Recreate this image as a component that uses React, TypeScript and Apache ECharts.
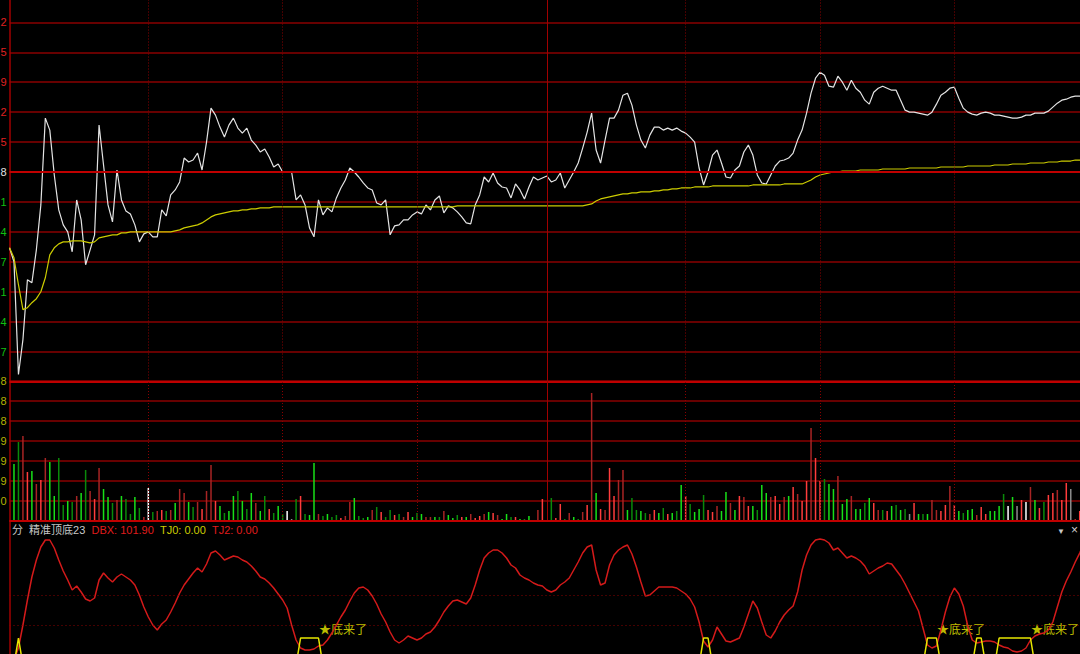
import React, { useEffect, useRef } from 'react';
import * as echarts from 'echarts';

// minute index 0..240 ; price in ticks relative to previous close (30 ticks = one grid step)
const PRICE = [
  -76, -90, -203, -168, -108, -111, -78, -33, 54, 42,
  -3, -38, -53, -60, -80, -28, -48, -93, -78, -63,
  47, 7, -33, -50, 2, -28, -39, -42, -53, -70,
  -62, -60, -65, -65, -38, -44, -23, -18, -10, 14,
  10, 12, 19, 2, 30, 64, 57, 45, 35, 47,
  54, 44, 39, 44, 32, 27, 20, 23, 15, 5,
  8, 0, 0, 0, -28, -23, -33, -56, -65, -28,
  -43, -36, -40, -26, -16, -8, 4, 0, -5, -11,
  -16, -18, -31, -33, -28, -63, -54, -53, -48, -48,
  -43, -40, -42, -33, -38, -28, -24, -41, -34, -36,
  -40, -45, -51, -52, -33, -23, -5, -10, -1, -11,
  -15, -16, -26, -12, -18, -27, -15, -5, -8, -6,
  -4, -10, -8, -1, -16, -8, 0, 9, 24, 40,
  59, 22, 9, 32, 54, 54, 62, 77, 79, 67,
  47, 32, 24, 37, 45, 45, 42, 44, 42, 44,
  41, 39, 35, 30, 4, -13, 0, 17, 22, 9,
  -5, -6, 2, 6, 20, 27, 17, -3, -11, -12,
  -3, 6, 11, 12, 14, 19, 32, 42, 59, 79,
  94, 100, 97, 86, 85, 96, 90, 82, 92, 84,
  80, 72, 68, 80, 84, 86, 84, 82, 82, 72,
  62, 60, 60, 59, 58, 57, 60, 68, 77, 80,
  84, 85, 74, 64, 60, 58, 57, 59, 60, 59,
  57, 57, 56, 55, 54, 54, 55, 57, 57, 59,
  59, 59, 61, 65, 69, 72, 73, 75, 76, 76, 76,
];

const AVG_PRICE = [
  -76, -86, -113, -138, -136, -131, -127, -120, -106, -83,
  -76, -72, -70, -70, -69, -69, -69, -70, -71, -70,
  -66, -65, -64, -63, -63, -61, -61, -60, -60, -60,
  -60, -60, -60, -60, -60, -60, -60, -59, -58, -56,
  -55, -54, -53, -51, -48, -45, -43, -42, -41, -40,
  -39, -39, -38, -38, -37, -37, -36, -36, -36, -35,
  -35, -35, -35, -35, -35, -35, -35, -35, -35, -35,
  -35, -35, -35, -35, -35, -35, -35, -35, -35, -35,
  -35, -35, -35, -35, -35, -35, -35, -35, -35, -35,
  -35, -35, -35, -35, -35, -35, -35, -35, -35, -35,
  -34, -34, -34, -34, -34, -34, -34, -34, -34, -34,
  -34, -34, -34, -34, -34, -34, -34, -34, -34, -34,
  -34, -34, -34, -34, -34, -34, -34, -34, -34, -33,
  -32, -29, -27, -26, -25, -24, -23, -22, -22, -21,
  -21, -20, -20, -20, -19, -19, -18, -18, -17, -17,
  -16, -16, -16, -15, -15, -15, -15, -14, -14, -14,
  -14, -14, -14, -14, -14, -14, -13, -13, -13, -13,
  -13, -13, -13, -12, -12, -12, -12, -12, -10, -8,
  -5, -3, -2, -1, 0, 0, 1, 1, 1, 1,
  2, 2, 2, 2, 2, 3, 3, 3, 3, 3,
  3, 4, 4, 4, 4, 4, 4, 4, 5, 5,
  5, 5, 5, 5, 6, 6, 6, 6, 6, 6,
  7, 7, 7, 7, 8, 8, 8, 8, 9, 9,
  9, 9, 10, 10, 10, 11, 11, 11, 12, 12, 12,
];

const VOLUME = [
  0, 57, 79, 85, 49, 50, 37, 41, 63, 59,
  25, 63, 16, 20, 19, 25, 28, 51, 30, 22,
  53, 32, 24, 18, 21, 25, 22, 7, 24, 13,
  4, 33, 9, 10, 11, 10, 11, 18, 32, 28,
  19, 14, 19, 12, 30, 56, 20, 15, 8, 10,
  25, 30, 20, 12, 28, 18, 10, 25, 12, 8,
  15, 7, 10, 2, 22, 25, 7, 6, 58, 7,
  5, 7, 4, 6, 3, 5, 19, 23, 5, 3,
  4, 11, 14, 9, 4, 11, 6, 7, 4, 9,
  4, 8, 7, 4, 4, 4, 4, 10, 6, 3,
  6, 4, 4, 7, 3, 5, 7, 9, 8, 6,
  2, 7, 4, 4, 2, 2, 5, 1, 11, 22,
  1, 23, 3, 17, 2, 8, 4, 2, 9, 16,
  128, 28, 12, 11, 53, 25, 41, 51, 11, 23,
  11, 10, 8, 7, 11, 8, 13, 7, 8, 10,
  36, 25, 17, 9, 12, 26, 11, 9, 15, 10,
  29, 18, 11, 25, 24, 15, 15, 11, 36, 28,
  24, 25, 17, 24, 25, 34, 27, 20, 40, 93,
  63, 40, 42, 37, 32, 45, 17, 22, 25, 12,
  12, 18, 23, 18, 11, 11, 10, 15, 16, 11,
  12, 7, 18, 7, 7, 7, 21, 11, 10, 16,
  35, 16, 10, 8, 11, 12, 6, 14, 7, 10,
  10, 15, 27, 15, 24, 15, 21, 19, 34, 21,
  13, 19, 26, 28, 31, 21, 38, 32, 2, 10, 10,
];

// r/R up (bright/dark), g/G down (bright/dark), w/W flat (bright/grey)
const VOLUME_COLOR =
  'ggGRrgRrRg' + 'gGGgGRgGRr' + 'RggGRgGGgG' + 'RwGRrGRgRR' + 'gGRrRRrgGg' +
  'gGgGgRgGrG' + 'gGwWGrGggR' + 'GgGGrRRgGG' + 'gRGrGGrGRr' + 'gGgRRgGRgg' +
  'GrgRrrRgrR' + 'ggGrgGgrRr' + 'gGrrGRgGRr' + 'RgrRrrRRgG' + 'GgGRrgGrgG' +
  'grGggGrrRg' + 'gRgrRrgGgg' + 'RrrRgrRrrR' + 'rrGggRggRg' + 'gGgrRGrgGg' +
  'GWrgGgRRrr' + 'RrgGggRrrg' + 'ggGwgWrwRg' + 'rGrrRrrWRr' + 'r';

const DBX = [
  -20, -15, -3, 20, 45, 68, 85, 98, 105, 105,
  97, 85, 74, 65, 55, 59, 53, 46, 44, 47,
  65, 72, 67, 63, 68, 71, 68, 65, 60, 50,
  38, 28, 20, 15, 21, 25, 33, 42, 52, 60,
  66, 72, 77, 73, 81, 92, 94, 90, 85, 87,
  89, 88, 85, 83, 79, 74, 68, 66, 62, 57,
  51, 45, 37, 20, 5, -3, -5, -5, -4, -1,
  0, 5, 12, 20, 28, 35, 44, 52, 57, 58,
  55, 49, 41, 31, 23, 13, 5, 2, 5, 9,
  7, 5, 7, 11, 13, 18, 25, 33, 39, 44,
  45, 43, 41, 47, 60, 75, 87, 92, 95, 95,
  92, 87, 80, 77, 70, 67, 65, 62, 60, 59,
  55, 53, 55, 60, 63, 67, 75, 83, 92, 98,
  100, 75, 60, 62, 80, 90, 95, 98, 100, 91,
  78, 63, 49, 50, 54, 58, 58, 58, 58, 57,
  54, 51, 46, 38, 23, 4, -2, 5, 18, 11,
  4, 3, 5, 7, 18, 31, 44, 37, 23, 10,
  7, 14, 23, 30, 35, 39, 53, 75, 90, 100,
  105, 106, 105, 102, 95, 97, 92, 87, 89, 87,
  84, 79, 71, 74, 77, 79, 82, 81, 75, 69,
  61, 52, 43, 34, 17, 0, -3, -1, 15, 33,
  48, 57, 51, 39, 19, 5, 2, 3, 4, 4,
  3, 0, -2, -3, -6, -7, -6, -3, 5, 9,
  11, 12, 15, 23, 38, 53, 64, 73, 83, 92, 101.9,
];

const TJ0_FLAGS =
  '0010000000' + '0000000000' + '0000000000' + '0000000000' + '0000000000' +
  '0000000000' + '0000011111' + '0000000000' + '0000000000' + '0000000000' +
  '0000000000' + '0000000000' + '0000000000' + '0000000000' + '0000000000' +
  '0000011000' + '0000000000' + '0000000000' + '0000000000' + '0000000000' +
  '0000011100' + '0000001100' + '0111111110' + '0000000000' + '0';

const TJ2_LAST = 0;
const SIGNAL_AT = [69, 207, 228];
const SIGNAL_LEVEL = 17;
const SIGNAL_TEXT = '★底来了';
const INDICATOR_NAME = '精准顶底23';

// visible last digit of price tick labels, from -6 to +5 grid steps
const PRICE_TICKS = ['7', '4', '1', '7', '4', '1', '8', '5', '2', '9', '5', '2'];
const PRICE_TICK_TONE = ['g', 'g', 'g', 'g', 'g', 'g', 'w', 'r', 'r', 'r', 'r', 'r'];
// visible last digit of volume tick labels, steps 1..7
const VOLUME_TICKS = ['0', '9', '9', '9', '8', '8', '8'];

const TIME_LINES = [31, 61, 91, 151, 181, 211];
const NOON_LINE = 120;

const COLORS: Record<string, string> = {
  r: '#ff3c3c', R: '#a82424', g: '#18e018', G: '#0a8a0a', w: '#ffffff', W: '#8c8c8c',
};

const FONT = "'Liberation Sans', 'Noto Sans CJK SC', sans-serif";

export default function App() {
  const ref = useRef<HTMLDivElement>(null);
  useEffect(() => {
    if (!ref.current) return;
    const chart = echarts.init(ref.current, null, { renderer: 'svg' });
    const gridBase = { left: 9.5, right: -4.2, outerBoundsMode: 'none', containLabel: false };
    const xa = (gridIndex: number) => ({ type: 'value', gridIndex, min: 0, max: 240, show: false });
    const vLines = [
      ...TIME_LINES.map((x) => ({ xAxis: x, lineStyle: { color: '#8a0000', width: 1, type: [1, 2] } })),
      { xAxis: NOON_LINE, lineStyle: { color: '#a00000', width: 1, type: 'solid' } },
    ];
    const tjLast = Number(TJ0_FLAGS[TJ0_FLAGS.length - 1]);
    const option: any = {
      animation: false,
      backgroundColor: '#000',
      grid: [
        { ...gridBase, top: -37.5, height: 419 },
        { ...gridBase, top: 381, height: 140 },
        { ...gridBase, top: 521, height: 144 },
      ],
      xAxis: [xa(0), xa(1), xa(2)],
      yAxis: [
        {
          type: 'value', gridIndex: 0, min: -210, max: 210, interval: 30,
          axisLine: { show: true, lineStyle: { color: '#a00000', width: 1.5 } },
          axisTick: { show: false },
          splitLine: { show: true, lineStyle: { color: '#8a0000', width: 1.5 } },
          axisLabel: {
            margin: 3, fontSize: 11, fontFamily: FONT,
            formatter: (v: number) => {
              const k = Math.round(v / 30) + 6;
              if (k < 0 || k >= PRICE_TICKS.length) return '';
              return `{${PRICE_TICK_TONE[k]}|${PRICE_TICKS[k]}}`;
            },
            rich: {
              r: { color: '#e02020', fontSize: 11, fontFamily: FONT },
              g: { color: '#10c010', fontSize: 11, fontFamily: FONT },
              w: { color: '#e0e0e0', fontSize: 11, fontFamily: FONT },
            },
          },
        },
        {
          type: 'value', gridIndex: 1, min: 0, max: 140, interval: 20,
          axisLine: { show: true, lineStyle: { color: '#a00000', width: 1.5 } },
          axisTick: { show: false },
          splitLine: { show: true, lineStyle: { color: '#8a0000', width: 1.5 } },
          axisLabel: {
            margin: 3, fontSize: 11, fontFamily: FONT, color: '#b4b400',
            showMaxLabel: true,
            formatter: (v: number) => {
              const k = Math.round(v / 20) - 1;
              if (k < 0 || k >= VOLUME_TICKS.length) return '';
              return VOLUME_TICKS[k];
            },
          },
        },
        {
          type: 'value', gridIndex: 2, min: -20, max: 124,
          axisLine: { show: true, lineStyle: { color: '#a00000', width: 1.5 } },
          axisTick: { show: false }, axisLabel: { show: false }, splitLine: { show: false },
        },
        { type: 'value', gridIndex: 2, min: 0, max: 144 / 27, show: false, splitLine: { show: false } },
      ],
      title: {
        left: 12, top: 524, padding: 0,
        text: `{a|分}  {a|${INDICATOR_NAME}}  {r|DBX: ${DBX[DBX.length - 1].toFixed(2)}}  {y|TJ0: ${tjLast.toFixed(2)}}  {r|TJ2: ${TJ2_LAST.toFixed(2)}}`,
        textStyle: {
          fontSize: 11, fontFamily: FONT, fontWeight: 'normal', color: '#c0c0c0', lineHeight: 12,
          rich: {
            a: { color: '#c8c8c8', fontSize: 11, fontFamily: FONT, lineHeight: 12 },
            r: { color: '#e01c1c', fontSize: 11, fontFamily: FONT, lineHeight: 12 },
            y: { color: '#cccc00', fontSize: 11, fontFamily: FONT, lineHeight: 12 },
          },
        },
      },
      graphic: [
        { type: 'text', left: 1057, top: 527, style: { text: '▼', fill: '#c8c8c8', fontSize: 8, fontFamily: FONT } },
        { type: 'text', left: 1071, top: 524, style: { text: '×', fill: '#d0d0d0', fontSize: 12, fontFamily: FONT } },
      ],
      series: [
        {
          type: 'line', xAxisIndex: 0, yAxisIndex: 0, z: 3,
          data: PRICE.map((v, i) => [i, v]), showSymbol: false, symbol: 'none',
          lineStyle: { color: '#e4e4e4', width: 1.2 },
          markLine: {
            silent: true, symbol: ['none', 'none'], label: { show: false },
            data: [
              ...vLines,
              { yAxis: 0, lineStyle: { color: '#c00000', width: 2, type: 'solid' } },
              { yAxis: -210, lineStyle: { color: '#c00000', width: 2.2, type: 'solid' } },
            ],
          },
        },
        {
          type: 'line', xAxisIndex: 0, yAxisIndex: 0, z: 3,
          data: AVG_PRICE.map((v, i) => [i, v]), showSymbol: false, symbol: 'none',
          lineStyle: { color: '#cccc00', width: 1.2 },
        },
        {
          type: 'bar', xAxisIndex: 1, yAxisIndex: 1, barWidth: 1.5,
          data: VOLUME.map((v, i) => ({ value: [i, v], itemStyle: { color: COLORS[VOLUME_COLOR[i]] } })),
          markLine: {
            silent: true, symbol: ['none', 'none'], label: { show: false },
            data: [
              ...vLines,
              { yAxis: 0, lineStyle: { color: '#c00000', width: 2.2, type: 'solid' } },
            ],
          },
        },
        {
          type: 'line', xAxisIndex: 2, yAxisIndex: 2,
          data: DBX.map((v, i) => [i, v]), showSymbol: false, symbol: 'none',
          lineStyle: { color: '#d41a1a', width: 1.5 },
          markLine: {
            silent: true, symbol: ['none', 'none'], label: { show: false },
            data: [
              { yAxis: 20, lineStyle: { color: '#8a0000', width: 1, type: [1, 3] } },
              { yAxis: 50, lineStyle: { color: '#8a0000', width: 1, type: [1, 3] } },
            ],
          },
        },
        {
          type: 'line', xAxisIndex: 2, yAxisIndex: 3,
          data: TJ0_FLAGS.split('').map((c, i) => [i, Number(c)]), showSymbol: false, symbol: 'none',
          lineStyle: { color: '#e6e600', width: 1.5 },
        },
        {
          type: 'scatter', xAxisIndex: 2, yAxisIndex: 2, symbolSize: 1,
          itemStyle: { color: 'rgba(0,0,0,0)' },
          data: SIGNAL_AT.map((i) => [i, SIGNAL_LEVEL]),
          label: {
            show: true, position: 'right', distance: 0, formatter: SIGNAL_TEXT,
            color: '#f0f000', fontSize: 12, fontFamily: "'Noto Sans CJK SC', sans-serif",
          },
        },
      ],
    };
    chart.setOption(option);
    return () => chart.dispose();
  }, []);
  return (
    <div
      ref={ref}
      style={{ position: 'absolute', left: 0, top: 0, width: 1080, height: 654, background: '#000' }}
    />
  );
}
